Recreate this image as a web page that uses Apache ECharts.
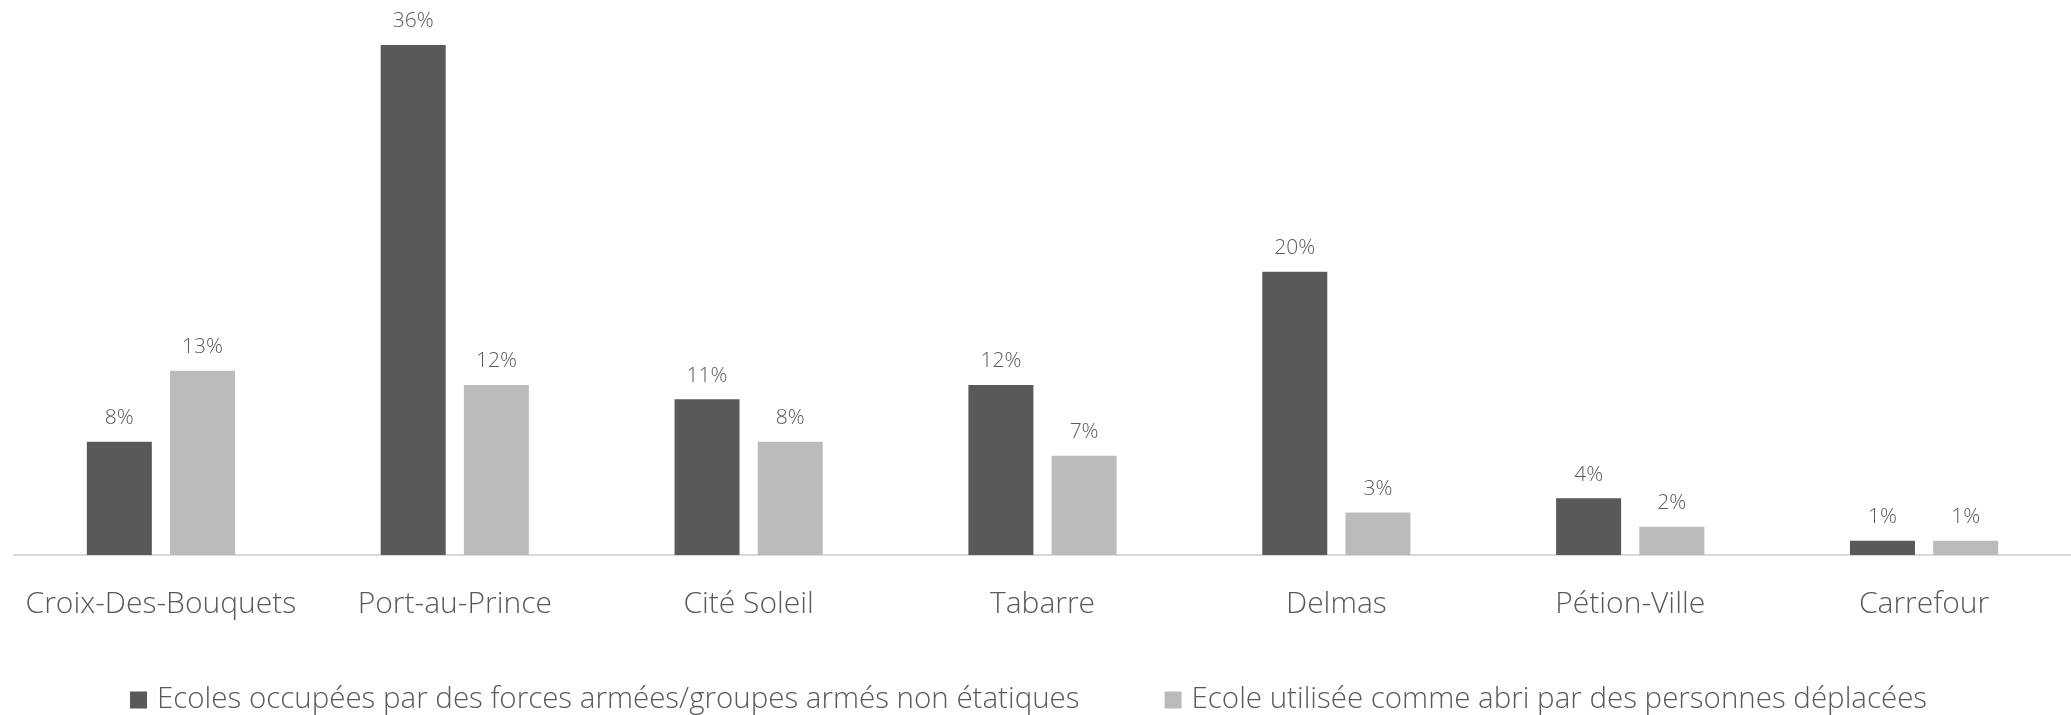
<!DOCTYPE html>
<html>
<head>
<meta charset="utf-8">
<script src="https://cdn.jsdelivr.net/npm/echarts@6/dist/echarts.min.js"></script>
<style>html,body{margin:0;padding:0;background:#fff;}#c{width:2071px;height:715px;}</style>
</head>
<body>
<div id="c"></div>
<script>
const categories = ['Croix-Des-Bouquets', 'Port-au-Prince', 'Cité Soleil', 'Tabarre', 'Delmas', 'Pétion-Ville', 'Carrefour'];
const seriesNames = ['Ecoles occupées par des forces armées/groupes armés non étatiques', 'Ecole utilisée comme abri par des personnes déplacées'];
const occupied = [8, 36, 11, 12, 20, 4, 1];
const shelter = [13, 12, 8, 7, 3, 2, 1];

const FONT = '"Open Sans", "Noto Sans", sans-serif';
const chart = echarts.init(document.getElementById('c'));
const labelCfg = {
  show: true, position: 'top', distance: 13,
  formatter: p => p.value + '%',
  color: '#595959', fontFamily: FONT, fontWeight: 300, fontSize: 21
};
chart.setOption({
  animation: false,
  textStyle: { fontFamily: FONT },
  grid: { left: 14, width: 2070, top: 45, bottom: 160, containLabel: false },
  legend: {
    bottom: -5, left: 125, itemWidth: 17, itemHeight: 17, itemGap: 85,
    icon: 'rect',
    textStyle: { color: '#595959', fontFamily: FONT, fontWeight: 300, fontSize: 29.5, padding: [0, 0, 0, 5] },
    data: seriesNames
  },
  xAxis: {
    type: 'category', data: categories,
    axisLine: { lineStyle: { color: '#d9d9d9', width: 2 } },
    axisTick: { show: false },
    axisLabel: { interval: 0, color: '#595959', fontFamily: FONT, fontWeight: 300, fontSize: 30, margin: 34 }
  },
  yAxis: {
    type: 'value', min: 0, max: 36, show: false,
    splitLine: { show: false }
  },
  series: [
    { name: seriesNames[0], type: 'bar', data: occupied, barWidth: 65, barGap: '28%',
      itemStyle: { color: '#595959' }, label: labelCfg },
    { name: seriesNames[1], type: 'bar', data: shelter, barWidth: 65,
      itemStyle: { color: '#bbbbbb' }, label: labelCfg }
  ]
});
</script>
</body>
</html>
